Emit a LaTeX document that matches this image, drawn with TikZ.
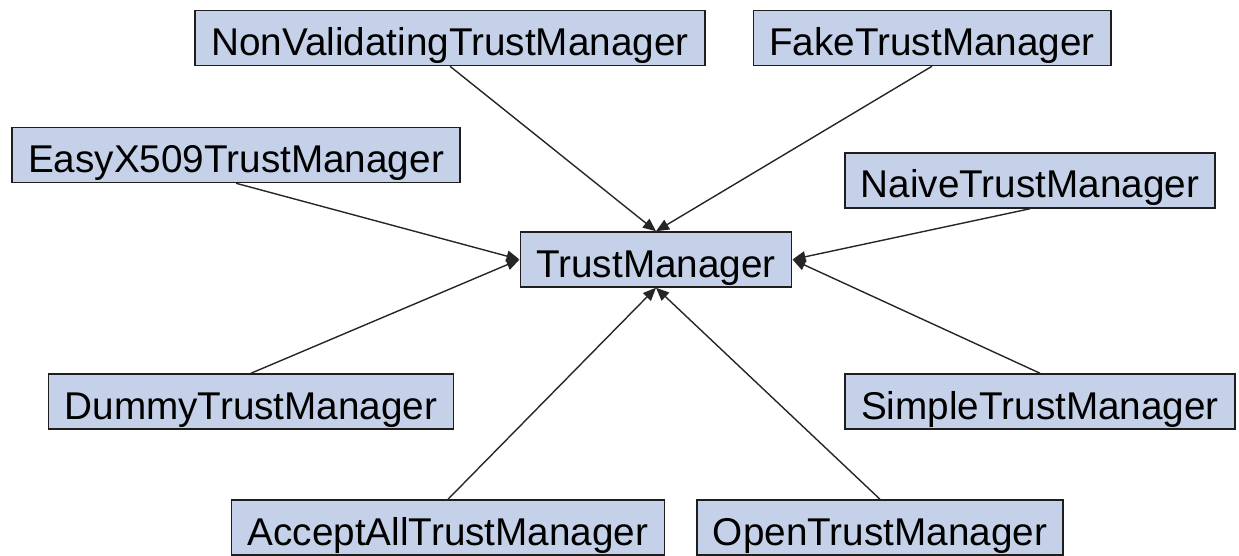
\documentclass[tikz,border=0pt]{standalone}
\usepackage{fontspec}
\setmainfont{Liberation Sans}
\usetikzlibrary{arrows.meta}
\definecolor{boxfill}{RGB}{197,209,233}
\definecolor{boxline}{RGB}{30,30,30}
\tikzset{
  cls/.style={draw=boxline, line width=1.5pt, fill=boxfill,
    font=\fontsize{38.7}{40}\selectfont, inner xsep=16pt, inner ysep=0pt,
    minimum height=55pt, text height=35pt, text depth=0pt},
  impl/.style={draw=black!85, line width=1.4pt,
    -{Triangle[length=13pt,width=11pt]}}
}
\begin{document}
\begin{tikzpicture}[x=1pt,y=-1pt]
\useasboundingbox (0,0) rectangle (1239,556);
% central interface
\node[cls] (tm) at (656,259.5) {TrustManager};
% implementations
\node[cls] (nv)     at (450,38)    {NonValidatingTrustManager};
\node[cls] (fake)   at (932,38)    {FakeTrustManager};
\node[cls] (easy)   at (236,155)   {EasyX509TrustManager};
\node[cls] (naive)  at (1030,180.5) {NaiveTrustManager};
\node[cls] (dummy)  at (251,401.5) {DummyTrustManager};
\node[cls] (simple) at (1040,401.5) {SimpleTrustManager};
\node[cls] (accept) at (448,527.5) {AcceptAllTrustManager};
\node[cls] (open)   at (880,527.5) {OpenTrustManager};
% connectors
\draw[impl] (nv.south)     -- (tm.north);
\draw[impl] (fake.south)   -- (tm.north);
\draw[impl] (easy.south)   -- (tm.west);
\draw[impl] (dummy.north)  -- (tm.west);
\draw[impl] (naive.south)  -- (tm.east);
\draw[impl] (simple.north) -- (tm.east);
\draw[impl] (accept.north) -- (tm.south);
\draw[impl] (open.north)   -- (tm.south);
\end{tikzpicture}
\end{document}
